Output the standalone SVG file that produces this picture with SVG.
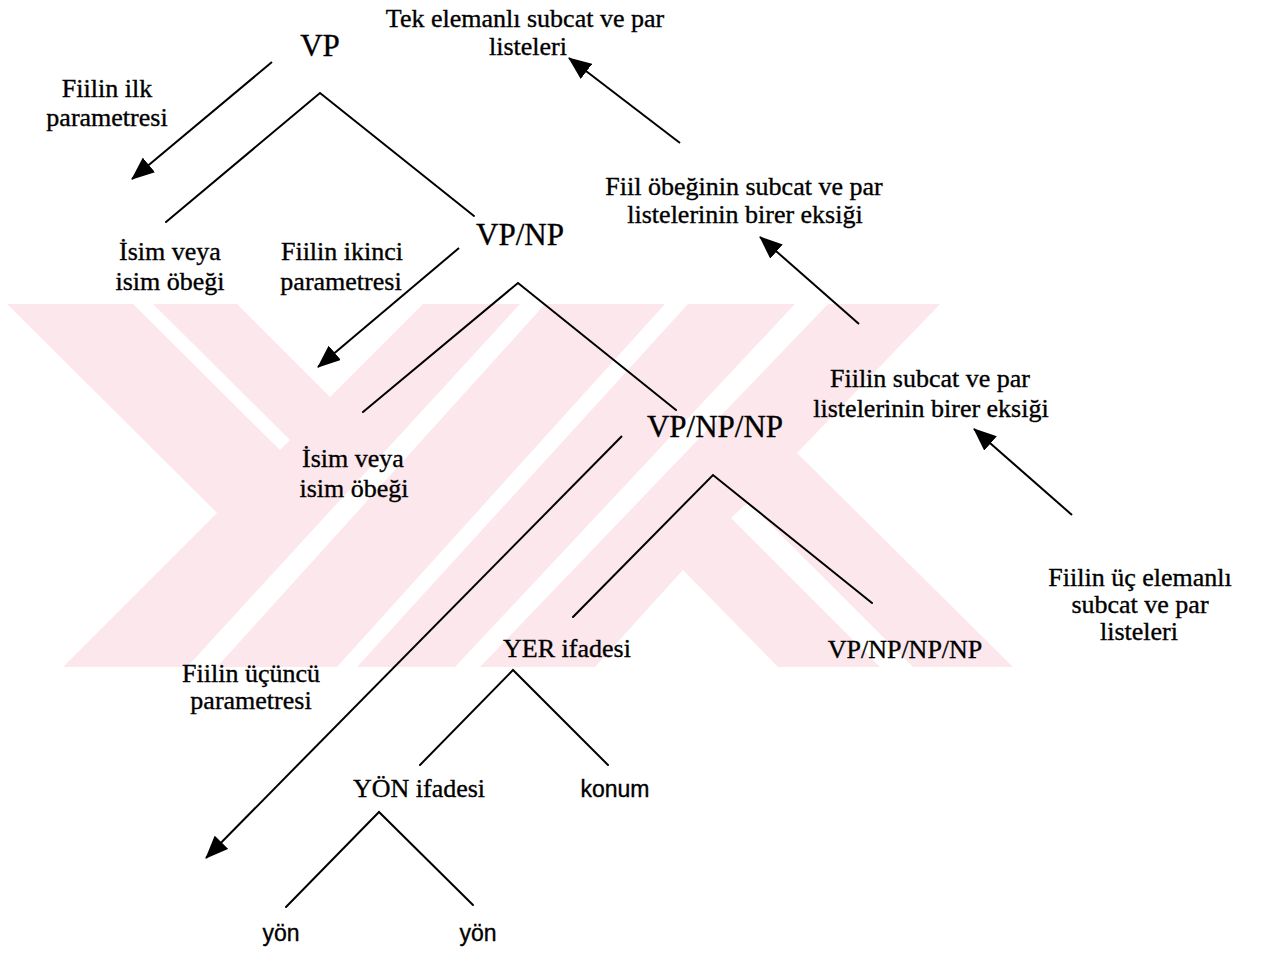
<svg xmlns="http://www.w3.org/2000/svg" width="1264" height="954" viewBox="0 0 1264 954">
<style>
.lbl{font-family:"Liberation Serif","Times New Roman",serif;font-size:26px;fill:#000;stroke:#000;stroke-width:0.35;text-anchor:middle}
.nd{font-family:"Liberation Serif","Times New Roman",serif;font-size:31px;fill:#000;stroke:#000;stroke-width:0.35;text-anchor:middle}
.ss{font-family:"Liberation Sans",Arial,sans-serif;font-size:23px;fill:#000;stroke:#000;stroke-width:0.35;text-anchor:middle}
.br{stroke:#000;stroke-width:2;fill:none;stroke-linecap:round}
.ar{stroke:#000;stroke-width:2;fill:none;marker-end:url(#ah)}
.wm{fill:#fce8ec}
.wg{fill:#fff}
</style>
<defs>
<marker id="ah" markerUnits="userSpaceOnUse" markerWidth="23" markerHeight="19" viewBox="0 0 23 19" refX="22" refY="9.5" orient="auto">
<path d="M0,0 L23,9.5 L0,19 z" fill="#000"/>
</marker>
<clipPath id="wmclip"><rect x="7" y="304" width="1006" height="363"/></clipPath>
</defs>
<rect width="1264" height="954" fill="#fff"/>
<g id="watermark" clip-path="url(#wmclip)">
<rect class="wm" x="7" y="304" width="1006" height="363"/>
<polygon class="wg" points="0,297 217,513 0,730"/>
<polygon class="wg" points="237,304 330,397 423,304"/>
<polygon class="wg" points="133,304 153,304 290,440 280,450"/>
<polygon class="wg" points="520,304 545,304 217,667 187,667"/>
<polygon class="wg" points="665,304 688,304 357,667 337,667"/>
<polygon class="wg" points="795,304 828,304 480,667 455,667"/>
<polygon class="wg" points="595,667 683,570 778,667"/>
<polygon class="wg" points="797,453 940,304 1013,304 1013,667"/>
<polygon class="wg" points="731,518 748,502 913,667 880,667"/>
</g>
<g id="connectors">
<path class="br" d="M166,222 L320,93 L474,216"/>
<path class="br" d="M363,412 L518,283 L676,410"/>
<path class="br" d="M573,617 L713,475 L872,603"/>
<path class="br" d="M420,765 L513,670 L608,765"/>
<path class="br" d="M286,907 L379,812 L473,905"/>
<path class="ar" d="M272,62 L132,179"/>
<path class="ar" d="M459,248 L318,367"/>
<path class="ar" d="M680,143 L569,58"/>
<path class="ar" d="M859,324 L760,237"/>
<path class="ar" d="M1072,515 L974,429"/>
<path class="ar" d="M622,436 L206,858"/>
</g>
<g id="n-vp"><text class="nd" x="320" y="56">VP</text></g>
<g id="n-vpnp"><text class="nd" x="520" y="245">VP/NP</text></g>
<g id="n-vpnpnp"><text class="nd" x="715" y="437">VP/NP/NP</text></g>
<g id="n-vpnpnpnp"><text class="lbl" x="905" y="658">VP/NP/NP/NP</text></g>
<g id="n-isim1"><text class="lbl" x="170" y="260">İsim veya</text><text class="lbl" x="170" y="290">isim öbeği</text></g>
<g id="n-isim2"><text class="lbl" x="353" y="467">İsim veya</text><text class="lbl" x="354" y="497">isim öbeği</text></g>
<g id="n-yer"><text class="lbl" x="567" y="657">YER ifadesi</text></g>
<g id="n-yon-ifadesi"><text class="lbl" x="419" y="797">YÖN ifadesi</text></g>
<g id="n-konum"><text class="ss" x="615" y="797">konum</text></g>
<g id="n-yon1"><text class="ss" x="281" y="941">yön</text></g>
<g id="n-yon2"><text class="ss" x="478" y="941">yön</text></g>
<g id="l-tek"><text class="lbl" x="525" y="27">Tek elemanlı subcat ve par</text><text class="lbl" x="528" y="55">listeleri</text></g>
<g id="l-ilk"><text class="lbl" x="107" y="97">Fiilin ilk</text><text class="lbl" x="107" y="126">parametresi</text></g>
<g id="l-ikinci"><text class="lbl" x="342" y="260">Fiilin ikinci</text><text class="lbl" x="341" y="290">parametresi</text></g>
<g id="l-fiilobek"><text class="lbl" x="744" y="195">Fiil öbeğinin subcat ve par</text><text class="lbl" x="745" y="223">listelerinin birer eksiği</text></g>
<g id="l-fiilin-subcat"><text class="lbl" x="930" y="387">Fiilin subcat ve par</text><text class="lbl" x="931" y="417">listelerinin birer eksiği</text></g>
<g id="l-uc"><text class="lbl" x="1140" y="586">Fiilin üç elemanlı</text><text class="lbl" x="1140" y="613">subcat ve par</text><text class="lbl" x="1139" y="640">listeleri</text></g>
<g id="l-ucuncu"><text class="lbl" x="251" y="682">Fiilin üçüncü</text><text class="lbl" x="251" y="709">parametresi</text></g>
</svg>
